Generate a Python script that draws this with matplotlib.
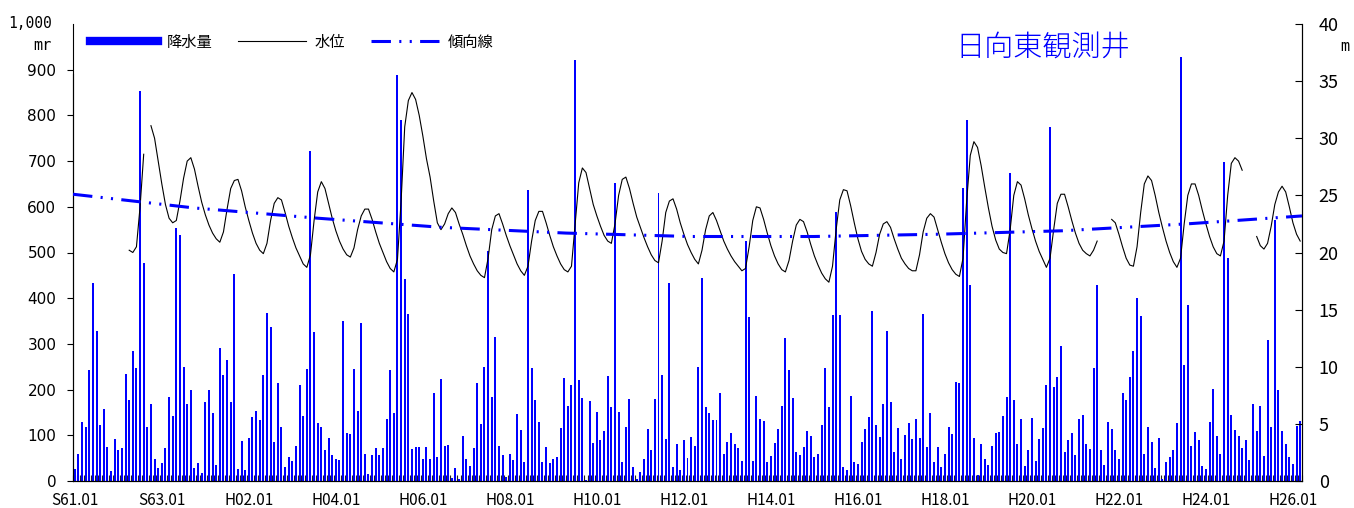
import matplotlib
matplotlib.use('Agg')
import matplotlib.pyplot as plt
from matplotlib.lines import Line2D
from matplotlib.transforms import blended_transform_factory
import numpy as np

plt.rcParams['font.family'] = ['Noto Sans CJK JP', 'DejaVu Sans']
plt.rcParams['lines.scale_dashes'] = False
MONO = ['DejaVu Sans Mono', 'DejaVu Sans']

# x axis: monthly, Jan 1986 (S61.01) .. Mar 2014
tick_labels = ['S61.01', 'S63.01', 'H02.01', 'H04.01', 'H06.01', 'H08.01', 'H10.01',
               'H12.01', 'H14.01', 'H16.01', 'H18.01', 'H20.01', 'H22.01', 'H24.01', 'H26.01']

# monthly rainfall (mm)
rain = [26, 59, 129, 118, 242, 434, 328, 123, 158, 74, 22, 92, 68, 72, 235, 178, 284, 247, 853, 478, 118, 168, 49, 29, 39, 72, 184, 142, 553, 539, 249, 169, 200,
        28, 39, 17, 172, 200, 149, 36, 292, 231, 265, 172, 454, 26, 88, 25, 94, 139, 153, 134, 232, 368, 338, 85, 215, 118, 31, 53, 44, 76, 209, 143, 244, 722, 325,
        127, 118, 68, 95, 57, 49, 46, 351, 106, 103, 246, 153, 345, 60, 15, 57, 72, 56, 72, 135, 243, 148, 889, 790, 441, 366, 70, 75, 75, 49, 75, 49, 193, 53, 223,
        76, 78, 6, 29, 4, 98, 49, 33, 72, 214, 124, 249, 504, 183, 316, 76, 56, 8, 59, 45, 146, 111, 42, 637, 247, 178, 129, 42, 75, 40, 49, 53, 115, 225,
        164, 209, 922, 220, 182, 3, 175, 83, 150, 89, 109, 229, 162, 652, 151, 41, 118, 179, 31, 4, 20, 49, 113, 68, 179, 630, 232, 92, 434, 31, 81, 23, 89, 50,
        97, 77, 249, 445, 161, 149, 133, 133, 193, 59, 85, 104, 81, 72, 44, 526, 359, 44, 187, 135, 131, 41, 55, 84, 113, 164, 314, 242, 182, 64, 57, 74, 110, 99,
        53, 60, 123, 247, 161, 364, 589, 364, 31, 24, 185, 41, 37, 85, 113, 140, 373, 122, 97, 169, 328, 173, 63, 115, 49, 100, 128, 92, 135, 94, 366, 75, 148, 41, 75,
        31, 60, 119, 103, 216, 214, 642, 790, 428, 95, 13, 82, 49, 35, 76, 104, 108, 142, 184, 674, 177, 81, 135, 33, 68, 137, 44, 91, 116, 209, 775, 205, 228, 295,
        63, 89, 106, 57, 135, 145, 81, 70, 247, 428, 68, 36, 129, 113, 68, 49, 193, 177, 227, 284, 401, 362, 59, 119, 85, 29, 95, 4, 41, 53, 68, 126, 927, 254,
        385, 77, 107, 89, 33, 27, 130, 201, 99, 60, 699, 489, 144, 111, 98, 72, 89, 46, 168, 110, 164, 55, 309, 119, 572, 200, 110, 81, 52, 37, 121, 131]

nan = float('nan')
# monthly groundwater level (m), starting at month index 15 (Apr 1987)
level_start = 15
level = [20.2, 20.0, 20.5, 24.0, 28.6, nan,
         31.1, 30.0, 28.0, 26.0, 24.2, 23.0, 22.6, 22.8,
         24.5, 26.5, 28.0, 28.3, 27.3, 25.8, 24.4, 23.3, 22.4, 21.7, 21.2, 20.9,
         21.8, 23.8, 25.6, 26.3, 26.4, 25.4, 24.0, 22.8, 21.7, 20.8, 20.2, 19.9,
         20.8, 22.8, 24.3, 24.8, 24.6, 23.5, 22.3, 21.3, 20.4, 19.7, 19.0, 18.7,
         19.8, 22.8, 25.3, 26.2, 25.6, 24.3, 23.0, 21.9, 21.0, 20.3, 19.8, 19.6,
         20.4, 22.0, 23.2, 23.8, 23.8, 22.9, 21.8, 20.8, 20.0, 19.2, 18.6, 18.3,
         19.4, 24.5, 31.0, 33.3, 34.0, 33.4, 32.0, 30.2, 28.2, 26.6, 24.5, 22.6, 22.0,
         22.5, 23.4, 23.9, 23.5, 22.5, 21.6, 20.6, 19.7, 19.0, 18.4, 18.0, 17.8,
         19.5, 22.0, 23.2, 23.4, 22.5, 21.5, 20.6, 19.8, 19.0, 18.4, 18.0,
         18.8, 21.0, 22.8, 23.6, 23.6, 22.6, 21.5, 20.5, 19.7, 19.0, 18.5, 18.3,
         18.8, 22.5, 26.1, 27.4, 27.0, 25.6, 24.2, 23.2, 22.3, 21.5, 21.0, 20.8,
         22.5, 25.0, 26.4, 26.6, 25.6, 24.3, 23.1, 22.2, 21.3, 20.5, 19.8, 19.3, 19.1,
         21.0, 23.5, 24.5, 24.7, 23.8, 22.6, 21.6, 20.7, 20.0, 19.4, 19.0,
         20.2, 22.0, 23.2, 23.5, 22.8, 21.9, 21.0, 20.3, 19.7, 19.2, 18.8, 18.4, 18.6,
         20.5, 22.8, 24.0, 23.9, 22.9, 21.7, 20.6, 19.7, 19.0, 18.5, 18.3,
         19.3, 21.0, 22.4, 22.9, 22.7, 21.8, 20.7, 19.7, 18.9, 18.2, 17.7, 17.4,
         18.8, 22.0, 24.6, 25.5, 25.4, 24.1, 22.6, 21.2, 20.1, 19.4, 19.0, 18.8,
         20.0, 21.6, 22.5, 22.7, 22.2, 21.2, 20.3, 19.5, 19.0, 18.6, 18.4, 18.4,
         19.8, 21.8, 23.0, 23.4, 23.1, 22.0, 20.9, 19.9, 19.1, 18.5, 18.1, 17.9,
         19.5, 24.5, 28.5, 29.7, 29.2, 27.6, 25.7, 23.9, 22.3, 21.1, 20.3, 20.0, 19.9,
         22.0, 25.0, 26.2, 25.9, 24.7, 23.3, 22.1, 21.0, 20.1, 19.4, 18.7,
         19.5, 22.0, 24.3, 25.1, 25.1, 24.0, 22.8, 21.7, 20.8, 20.2, 19.9, 19.7,
         20.2, 21.0, nan, nan, nan,
         22.9, 22.6, 21.6, 20.5, 19.5, 18.9, 18.8, 20.5, 23.5, 26.0, 26.7, 26.3,
         25.0, 23.5, 22.2, 21.0, 20.0, 19.2, 18.7, 19.5, 22.5, 25.0, 26.0, 26.0,
         25.0, 23.7, 22.5, 21.4, 20.5, 19.9, 19.7, 21.0, 25.0, 27.8, 28.3, 28.0, 27.2,
         nan, nan, nan,
         21.4, 20.6, 20.3, 20.8, 22.3, 24.2, 25.3, 25.8, 25.3, 24.0, 22.6, 21.6, 21.0]

# trend line samples (month index, m)
trend_months = [-0.5, 32.9, 67.1, 101.3, 135.5, 169.7, 203.9, 238.1, 272.3, 306.5, 338.5]
trend_values = [25.1, 23.9, 23.0, 22.2, 21.7, 21.4, 21.4, 21.6, 21.9, 22.5, 23.2]

BLUE = '#0000ff'
trend_dash = (0, (14, 6, 1.5, 6, 1.5, 6))

fig = plt.figure(figsize=(13.54, 5.08), dpi=100)
ax = fig.add_axes([73/1354, 1-481/508, (1302-73)/1354, (481-24)/508])
ax2 = ax.twinx()

n = len(rain)
x = np.arange(n)
ax.bar(x, rain, width=0.55, color=BLUE, linewidth=0, zorder=2)
ax.set_xlim(-0.5, n - 0.5)
ax.set_ylim(0, 1000)
ax.set_yticks(np.arange(0, 901, 100))
ax.tick_params(axis='y', direction='out', length=4, pad=8)
for lab in ax.get_yticklabels():
    lab.set_fontfamily('DejaVu Sans')
    lab.set_fontsize(11)
ax.set_xticks(np.arange(0, n, 24))
ax.set_xticklabels(tick_labels)
ax.set_xticks(np.arange(n + 1) - 0.5, minor=True)
ax.tick_params(axis='x', which='major', length=0, pad=8, labelsize=11)
ax.tick_params(axis='x', which='minor', direction='in', length=4, width=0.8, color='#222222')
ax.spines['top'].set_visible(False)
ax.spines['left'].set_bounds(0, 890)

tr = blended_transform_factory(ax.transAxes, ax.transData)
ax.text(-0.017, 1000, '1,000', transform=tr, ha='right', va='center', fontsize=10.5,
        family=MONO)
ax.text(-0.025, 953, 'mr', transform=tr, ha='center', va='center', fontsize=11, family=MONO)

lx = np.arange(level_start, level_start + len(level))
ax2.plot(lx, level, color='black', lw=0.8, zorder=3)
ax2.plot(trend_months, trend_values, color=BLUE, lw=2.2, linestyle=trend_dash, zorder=4)
ax2.set_ylim(0, 40)
ax2.set_yticks(np.arange(0, 41, 5))
ax2.tick_params(axis='y', direction='in', length=5, pad=12, labelsize=13)
ax2.spines['top'].set_visible(False)
ax2.text(1.035, 38.0, 'm', transform=blended_transform_factory(ax2.transAxes, ax2.transData),
         ha='center', va='center', fontsize=11, family=MONO)

handles = [Line2D([], [], color=BLUE, lw=6),
           Line2D([], [], color='black', lw=0.8),
           Line2D([], [], color=BLUE, lw=2.2, linestyle=trend_dash)]
fig.legend(handles, ['降水量', '水位', '傾向線'], loc='center left',
           bbox_to_anchor=(90/1354, 1-42/508), bbox_transform=fig.transFigure,
           ncol=3, frameon=False, fontsize=11, handlelength=4.45, handletextpad=0.55,
           columnspacing=1.7, borderpad=0, borderaxespad=0)

fig.text(1043/1354, 1-47/508, '日向東観測井', color=BLUE, fontsize=21, fontweight='light',
         ha='center', va='center')

fig.savefig('out.png', dpi=100)
